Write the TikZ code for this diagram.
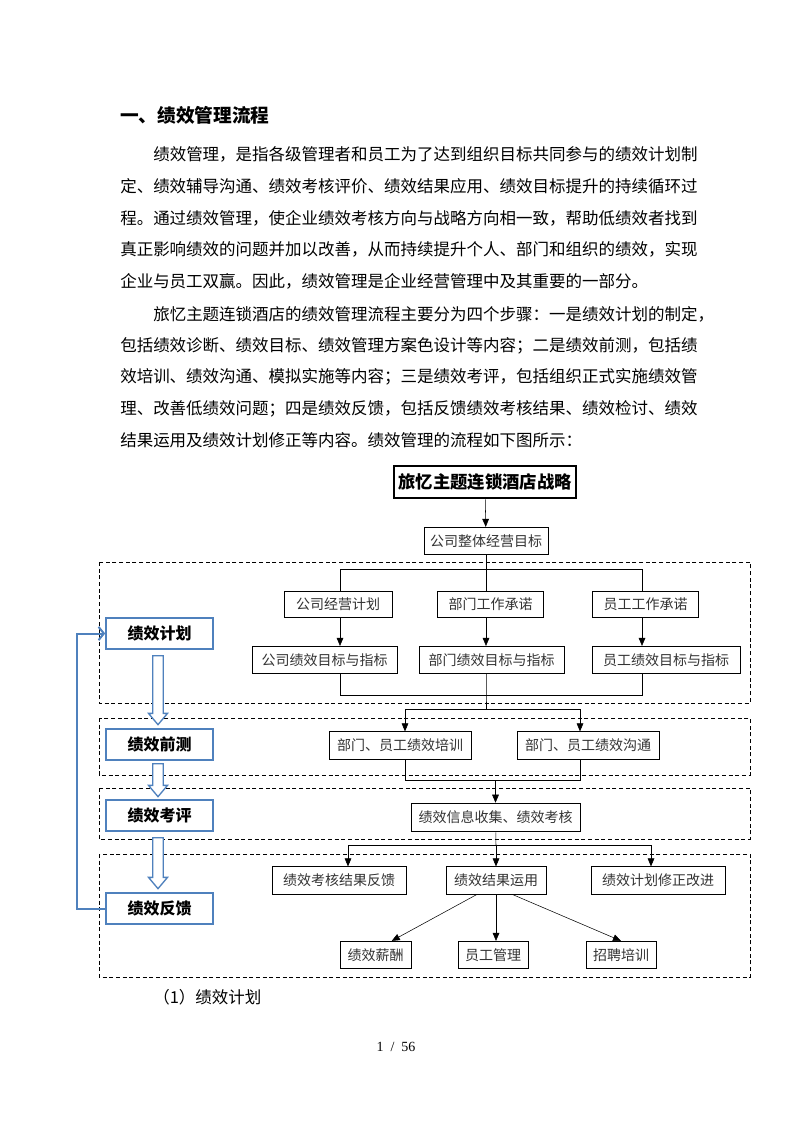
\documentclass[tikz,border=0pt]{standalone}
\usepackage{fontspec}
\setmainfont{Noto Sans CJK SC}
\newfontfamily\timesfont{Liberation Serif}
\usetikzlibrary{arrows.meta,shapes.arrows}
\definecolor{officeblue}{HTML}{4F81BD}
\definecolor{boxtext}{HTML}{333333}
\tikzset{
  box/.style={draw, line width=0.7pt, minimum height=20.5pt, inner sep=0pt, text=boxtext, font=\fontsize{10.5}{12}\selectfont},
  stagebox/.style={draw=officeblue, line width=1.5pt, minimum width=80pt, minimum height=23pt, inner sep=0pt, font=\bfseries\fontsize{12}{14}\selectfont},
  phase/.style={line width=0.6pt, dash pattern=on 3pt off 2pt},
  arr/.style={-{Triangle[length=6pt,width=5pt]}},
  hollow/.style={single arrow, draw=officeblue, fill=white, line width=1pt, inner sep=3.4pt, minimum width=1pt, single arrow head extend=3.2pt, single arrow tip angle=80, rotate=-90, anchor=tail},
  bodyline/.style={anchor=west, inner sep=0pt, font=\fontsize{12.37}{15}\selectfont}
}
\begin{document}
\begin{tikzpicture}[x=0.75pt, y=-0.75pt]
        \useasboundingbox (0,0) rectangle (793,1122);
        \fill[white] (0,0) rectangle (793,1122);

        \node[anchor=west, inner sep=0pt, font=\bfseries\fontsize{14}{16}\selectfont] (title) at (120,115) {一、绩效管理流程};
        \node[bodyline] (p1l1) at (153,154) {绩效管理，是指各级管理者和员工为了达到组织目标共同参与的绩效计划制};
        \node[bodyline] (p1l2) at (120,186) {定、绩效辅导沟通、绩效考核评价、绩效结果应用、绩效目标提升的持续循环过};
        \node[bodyline] (p1l3) at (120,218) {程。通过绩效管理，使企业绩效考核方向与战略方向相一致，帮助低绩效者找到};
        \node[bodyline] (p1l4) at (120,249) {真正影响绩效的问题并加以改善，从而持续提升个人、部门和组织的绩效，实现};
        \node[bodyline] (p1l5) at (120,281) {企业与员工双赢。因此，绩效管理是企业经营管理中及其重要的一部分。};
        \node[bodyline] (p2l1) at (153,314) {旅忆主题连锁酒店的绩效管理流程主要分为四个步骤：一是绩效计划的制定，};
        \node[bodyline] (p2l2) at (120,346) {包括绩效诊断、绩效目标、绩效管理方案色设计等内容；二是绩效前测，包括绩};
        \node[bodyline] (p2l3) at (120,377) {效培训、绩效沟通、模拟实施等内容；三是绩效考评，包括组织正式实施绩效管};
        \node[bodyline] (p2l4) at (120,409) {理、改善低绩效问题；四是绩效反馈，包括反馈绩效考核结果、绩效检讨、绩效};
        \node[bodyline] (p2l5) at (120,440) {结果运用及绩效计划修正等内容。绩效管理的流程如下图所示：};

        \draw[phase] (99,562) rectangle (750,703);
        \draw[phase] (99,718) rectangle (750,775);
        \draw[phase] (99,788) rectangle (750,839);
        \draw[phase] (99,854) rectangle (750,977);

        \node[draw, line width=1.6pt, minimum width=137pt, minimum height=24.5pt, inner sep=0pt, font=\bfseries\fontsize{13}{15}\selectfont] (strat) at (485,482) {旅忆主题连锁酒店战略};
        \node[box, minimum width=93pt] (goal) at (486,541) {公司整体经营目标};

        \node[box, minimum width=81pt, minimum height=19.5pt] (cplan) at (338,604) {公司经营计划};
        \node[box, minimum width=80pt, minimum height=19.5pt] (dpledge) at (490.5,604) {部门工作承诺};
        \node[box, minimum width=80pt, minimum height=19.5pt] (epledge) at (645.5,604) {员工工作承诺};
        \node[box, minimum width=108.75pt] (ctarget) at (324.5,660) {公司绩效目标与指标};
        \node[box, minimum width=108.75pt] (dtarget) at (491.5,660) {部门绩效目标与指标};
        \node[box, minimum width=111pt] (etarget) at (666,660) {员工绩效目标与指标};

        \node[box, minimum width=106.5pt] (train) at (400,745.5) {部门、员工绩效培训};
        \node[box, minimum width=106.5pt] (comm) at (588,745.5) {部门、员工绩效沟通};
        \node[box, minimum width=126.75pt, minimum height=21.5pt] (collect) at (495.5,817.5) {绩效信息收集、绩效考核};

        \node[box, minimum width=100.5pt] (fback) at (339,880.5) {绩效考核结果反馈};
        \node[box, minimum width=75pt] (res) at (496,880.5) {绩效结果运用};
        \node[box, minimum width=100.5pt] (revise) at (658,880.5) {绩效计划修正改进};
        \node[box, minimum width=53.25pt] (pay) at (375.5,955) {绩效薪酬};
        \node[box, minimum width=52.5pt] (staff) at (493,955) {员工管理};
        \node[box, minimum width=52.5pt] (recruit) at (621,955) {招聘培训};

        \coordinate (ja) at (340,569);
        \coordinate (jb) at (486,569);
        \coordinate (jc) at (642,569);
        \coordinate (ka) at (340,695);
        \coordinate (kb) at (486,695);
        \coordinate (kc) at (642,695);
        \coordinate (ma) at (405,709);
        \coordinate (mb) at (486,709);
        \coordinate (mc) at (580,709);
        \coordinate (na) at (405,780);
        \coordinate (nb) at (495.5,780);
        \coordinate (nc) at (580,780);
        \coordinate (qa) at (348,845);
        \coordinate (qb) at (496,845);
        \coordinate (qc) at (651,845);

        \draw[arr] (strat) -- (goal);
        \draw (goal) -- (jb);
        \draw (ja |- cplan.north) -- (ja) -- (jc) -- (jc |- epledge.north);
        \draw (jb) -- (jb |- dpledge.north);
        \draw[arr] (ja |- cplan.south) -- (ja |- ctarget.north);
        \draw[arr] (jb |- dpledge.south) -- (jb |- dtarget.north);
        \draw[arr] (jc |- epledge.south) -- (jc |- etarget.north);
        \draw (ja |- ctarget.south) -- (ka) -- (kc) -- (kc |- etarget.south);
        \draw (kb |- dtarget.south) -- (kb) -- (mb);
        \draw[arr] (mb) -- (ma) -- (ma |- train.north);
        \draw[arr] (mb) -- (mc) -- (mc |- comm.north);
        \draw (na |- train.south) -- (na) -- (nc) -- (nc |- comm.south);
        \draw[arr] (nb) -- (nb |- collect.north);
        \draw (collect) -- (qb);
        \draw[arr] (qb) -- (qa) -- (qa |- fback.north);
        \draw[arr] (qb) -- (qb |- res.north);
        \draw[arr] (qb) -- (qc) -- (qc |- revise.north);
        \draw[arr] (res.216) -- (pay.41);
        \draw[arr] (res.south) -- (res.south |- staff.north);
        \draw[arr] (res.320) -- (recruit.north);

        \node[stagebox] (splan) at (159.5,633.5) {绩效计划};
        \node[stagebox] (stest) at (159.5,744.5) {绩效前测};
        \node[stagebox] (seval) at (159.5,815.5) {绩效考评};
        \node[stagebox] (sfeed) at (159.5,908.5) {绩效反馈};
        \node[hollow, minimum height=51.75pt] (down1) at (158,655) {};
        \node[hollow, minimum height=24.75pt] (down2) at (158,763) {};
        \node[hollow, minimum height=38.25pt] (down3) at (158,837) {};
        \coordinate (loop) at (77,908.5);
        \draw[officeblue, line width=1.5pt, -{Straight Barb[length=4pt,width=10pt]}] (sfeed.west) -- (loop) |- (splan.west);

        \node[bodyline] (caption) at (153,997) {（1）绩效计划};
        \node[inner sep=0pt, font=\timesfont\fontsize{10.5}{12}\selectfont] (pagenum) at (396,1047) {1 \ / \ 56};
\end{tikzpicture}
\end{document}
